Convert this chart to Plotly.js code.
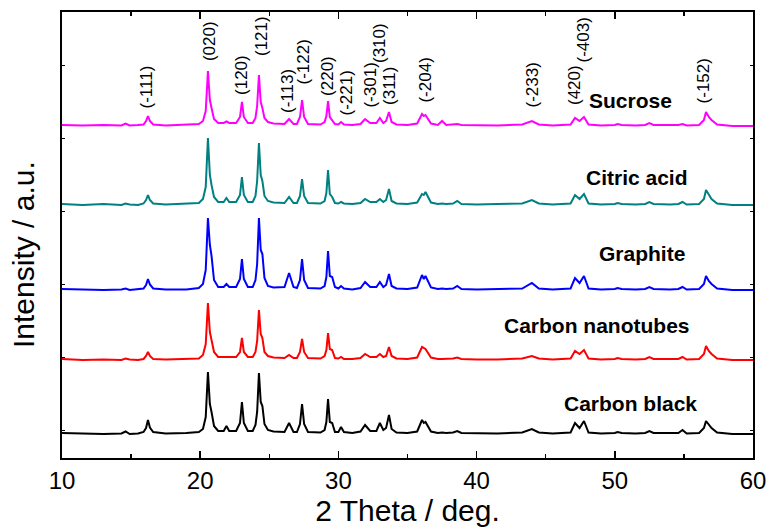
<!DOCTYPE html>
<html>
<head>
<meta charset="utf-8">
<script src="https://cdn.plot.ly/plotly-3.0.1.min.js"></script>
<style>html,body{margin:0;padding:0;background:#fff}#plot{width:767px;height:528px}</style>
</head>
<body>
<div id="plot"></div>
<script>
// 2 Theta grid (deg)
const twoTheta = [
  10.0, 11.5, 13.0, 14.3, 14.6, 14.9, 15.5,
  15.9, 16.08, 16.22, 16.36, 16.6,
  17.5, 19.0, 19.9,
  20.2, 20.4, 20.56, 20.7, 20.82, 21.0, 21.3,
  21.7, 21.9, 22.1,
  22.6, 22.88, 23.02, 23.16, 23.45,
  23.8, 24.0, 24.12, 24.25, 24.38, 24.5, 24.65, 24.9, 25.3,
  26.1, 26.43, 26.75,
  27.0, 27.22, 27.37, 27.52, 27.8,
  28.7, 29.0, 29.13, 29.25, 29.38, 29.55, 29.75,
  30.0, 30.19, 30.4,
  31.0, 31.6, 31.93, 32.3,
  32.75, 33.0, 33.25, 33.45, 33.66, 33.85, 34.2,
  35.0, 35.7, 36.05, 36.18, 36.3, 36.7,
  37.2, 37.5, 37.8, 38.3, 38.6, 38.9,
  40.0, 41.5, 43.3, 44.0, 44.5,
  45.5, 46.8, 47.12, 47.45, 47.77, 48.1,
  49.0, 50.0, 50.2, 50.5, 51.5, 52.2, 52.5, 52.8, 54.0, 54.6, 54.9, 55.2,
  56.1, 56.45, 56.6, 56.8, 57.0, 57.4, 58.5, 60.0
];

const sucrose = [
  1, 0.5, 1, 0.5, 2.5, 0.5, 1,
  1.5, 5, 10, 5, 1.5,
  0.5, 1, 2,
  5, 15, 55, 26, 18, 7, 3,
  3, 4.5, 3,
  3, 9, 24, 9, 3,
  3, 8, 20, 51, 24, 18, 8, 4, 2.5,
  2, 7, 2,
  2, 9, 26, 9, 2,
  1.5, 4, 10, 25, 9, 6, 2,
  1.5, 4, 1.5,
  1, 2, 7, 3,
  3, 8, 3, 5, 14, 4, 1.5,
  1, 2.5, 12, 10, 11, 2.5,
  1, 5, 1, 1.5, 2, 1,
  0.5, 0.5, 1.5, 5, 1.5,
  0.5, 1.5, 8, 5, 9, 1.5,
  0.5, 1, 2, 1, 0.5, 1, 3, 1, 0.5, 1, 2, 0.5,
  1, 6, 14, 9, 6, 1.5, 0, 0
];

const citricAcid = [
  1, 0, 1, 0, 1.5, 0.5, 0,
  1.5, 5, 10, 5, 1.5,
  0.5, 1, 2,
  6, 18, 67, 30, 20, 8, 3,
  3, 7, 3,
  3, 10, 28, 10, 3,
  3, 9, 24, 62, 30, 24, 9, 4, 2.5,
  2, 8, 2,
  2, 9, 26, 9, 2,
  1.5, 4, 12, 35, 11, 8, 2,
  1.5, 3, 1.5,
  1, 2, 6, 3,
  3, 6, 3, 5, 16, 4, 1.5,
  1, 2.5, 11, 10, 13, 2.5,
  1, 1.5, 1, 1.5, 4, 1,
  0.5, 1, 1.5, 5, 1.5,
  0.5, 1.5, 10, 6, 11, 1.5,
  0.5, 1, 2, 1, 0.5, 1, 3, 1, 0.5, 1, 3, 0.5,
  1, 6, 15, 10, 6, 1.5, 0, 0
];

const graphite = [
  1, 0.5, 0, 0.5, 1.5, 0, 0.5,
  1.5, 5, 11, 5.5, 1.5,
  0.5, 0.5, 2,
  6, 20, 72, 45, 34, 10, 3,
  3, 6, 3,
  3, 11, 31, 11, 3,
  3, 10, 26, 72, 40, 36, 12, 4, 2.5,
  3, 17, 3,
  2, 10, 31, 10, 2,
  1.5, 4, 13, 39, 14, 13, 3,
  1.5, 4, 1.5,
  0.5, 2, 8, 3,
  3, 8, 3, 5, 16, 4, 1.5,
  1, 2.5, 15, 11, 14, 2.5,
  1, 1.5, 1, 1.5, 4, 1,
  0.5, 1, 1.5, 7, 1.5,
  0.5, 1.5, 12, 7, 14, 1.5,
  0.5, 1, 2, 1, 0.5, 1, 3, 1, 0.5, 1, 3, 0.5,
  1, 6, 14, 9, 6, 1.5, 0, 0
];

const carbonNanotubes = [
  1, 0, 0.5, 0, 1.5, 0.5, 0,
  1, 4, 8, 4, 1,
  0.5, 1, 1.5,
  5, 16, 57, 28, 20, 8, 3,
  3, 3.5, 3,
  3, 8, 22, 8, 3,
  3, 8, 19, 50, 26, 22, 8, 4, 2.5,
  2, 5, 2,
  2, 8, 21, 8, 2,
  1.5, 4, 10, 27, 11, 10, 2,
  1.5, 3, 1,
  1, 2, 6, 3,
  3, 6, 3, 4, 13, 4, 1.5,
  1, 2.5, 13, 12, 11, 2.5,
  1, 1, 1, 1.5, 2.5, 1,
  0.5, 0.5, 1.5, 4, 1.5,
  0.5, 1.5, 9, 6, 10, 1.5,
  0.5, 1, 2, 1, 0.5, 1, 3, 1, 0.5, 1, 3, 0.5,
  1, 6, 14, 9, 6, 1.5, 0, 0
];

const carbonBlack = [
  1, 0.5, 0, 0.5, 2.5, 0, 0.5,
  2, 6, 14, 6.5, 2,
  0.5, 1, 2,
  5, 17, 62, 30, 22, 8, 3,
  3, 8, 3,
  3, 11, 32, 11, 3,
  3, 9, 22, 61, 32, 28, 10, 4, 2.5,
  2, 11, 2,
  2, 10, 30, 10, 2,
  1.5, 4, 12, 35, 12, 11, 2,
  2, 7, 2,
  1, 2.5, 9, 3,
  3, 11, 4, 6, 19, 5, 1.5,
  1, 2.5, 14, 11, 12, 2.5,
  1, 1.5, 1, 1.5, 3, 1,
  0.5, 0.5, 1.5, 5, 1.5,
  0.5, 1.5, 11, 6, 13, 1.5,
  0.5, 1, 2, 1, 0.5, 1, 3, 1, 0.5, 1, 4, 0.5,
  1, 6, 13, 9, 6, 1.5, 0, 0
];

const sampleNames = ["Sucrose", "Citric acid", "Graphite", "Carbon nanotubes", "Carbon black"];
const sampleSeries = [sucrose, citricAcid, graphite, carbonNanotubes, carbonBlack];
const stackOffsets = [332, 253, 168, 98, 24];

// Miller index labels
const hklText = ["(-111)", "(020)", "(120)", "(121)", "(-113)", "(-122)", "(220)", "(-221)",
                 "(-301)", "(310)", "(311)", "(-204)", "(-233)", "(420)", "(-403)", "(-152)"];

const xTickVals = [10, 20, 30, 40, 50, 60];

// ---------- styling / layout ----------
const colors = ["#FF00FF", "#008080", "#0000FF", "#FF0000", "#000000"];
const hklX = [16.15, 20.64, 22.95, 24.40, 26.28, 27.51, 29.17, 30.55, 32.29, 32.94, 33.66, 36.27, 44.01, 47.05, 47.70, 56.45];
const hklBottom = [348, 395, 361, 400, 343, 372, 360, 340, 348, 393, 351, 353, 348, 351, 393, 353];
const nameX = [51.17, 51.61, 51.97, 48.71, 51.10];
const nameY = [358, 281, 205, 133, 55];

const traces = sampleSeries.map((s, i) => ({
  x: twoTheta,
  y: s.map(v => v + stackOffsets[i]),
  type: "scatter",
  mode: "lines",
  name: sampleNames[i],
  line: {color: colors[i], width: 2},
  hoverinfo: "skip"
}));

const annotations = [];
hklText.forEach((t, i) => annotations.push({
  x: hklX[i], y: hklBottom[i], xref: "x", yref: "y",
  text: t, showarrow: false, textangle: -90,
  xanchor: "center", yanchor: "bottom",
  font: {family: "Liberation Sans, Arial, sans-serif", size: 17, color: "#000"}
}));
sampleNames.forEach((t, i) => annotations.push({
  x: nameX[i], y: nameY[i], xref: "x", yref: "y",
  text: "<b>" + t + "</b>", showarrow: false,
  xanchor: "center", yanchor: "middle",
  font: {family: "Liberation Sans, Arial, sans-serif", size: 21, color: "#000"}
}));
annotations.push({
  x: 23, y: 255, xref: "paper", yref: "paper",
  text: "Intensity / a.u.", showarrow: false, textangle: -90,
  xanchor: "center", yanchor: "middle",
  font: {family: "Liberation Sans, Arial, sans-serif", size: 30, color: "#000"}
});
// convert the y-title position from pixels to paper coordinates
annotations[annotations.length - 1].x = (23 - 62) / (753 - 62);
annotations[annotations.length - 1].y = (458 - 255) / (458 - 12);

const layout = {
  width: 767, height: 528,
  margin: {l: 62, r: 14, t: 12, b: 70, pad: 0},
  paper_bgcolor: "#fff", plot_bgcolor: "#fff",
  showlegend: false,
  font: {family: "Liberation Sans, Arial, sans-serif", color: "#000"},
  xaxis: {
    range: [10, 60], tickvals: xTickVals, ticktext: xTickVals.map(String),
    ticks: "inside", ticklen: 7, tickwidth: 1.5, tickcolor: "#000",
    minor: {dtick: 5, tick0: 10, ticks: "inside", ticklen: 4, tickwidth: 1.5, tickcolor: "#000"},
    showline: true, linecolor: "#000", linewidth: 2, mirror: "ticks",
    showgrid: false, zeroline: false,
    tickfont: {size: 24, family: "Liberation Sans, Arial, sans-serif"},
    title: {text: "2 Theta / deg.", font: {size: 30, family: "Liberation Sans, Arial, sans-serif"}, standoff: 6}
  },
  yaxis: {
    range: [0, 446], tick0: 28, dtick: 73,
    ticks: "inside", ticklen: 3, tickwidth: 1, tickcolor: "#000",
    showticklabels: false,
    showline: true, linecolor: "#000", linewidth: 2, mirror: "ticks",
    showgrid: false, zeroline: false
  },
  annotations: annotations
};

Plotly.newPlot("plot", traces, layout, {staticPlot: true, displayModeBar: false});
</script>
</body>
</html>
